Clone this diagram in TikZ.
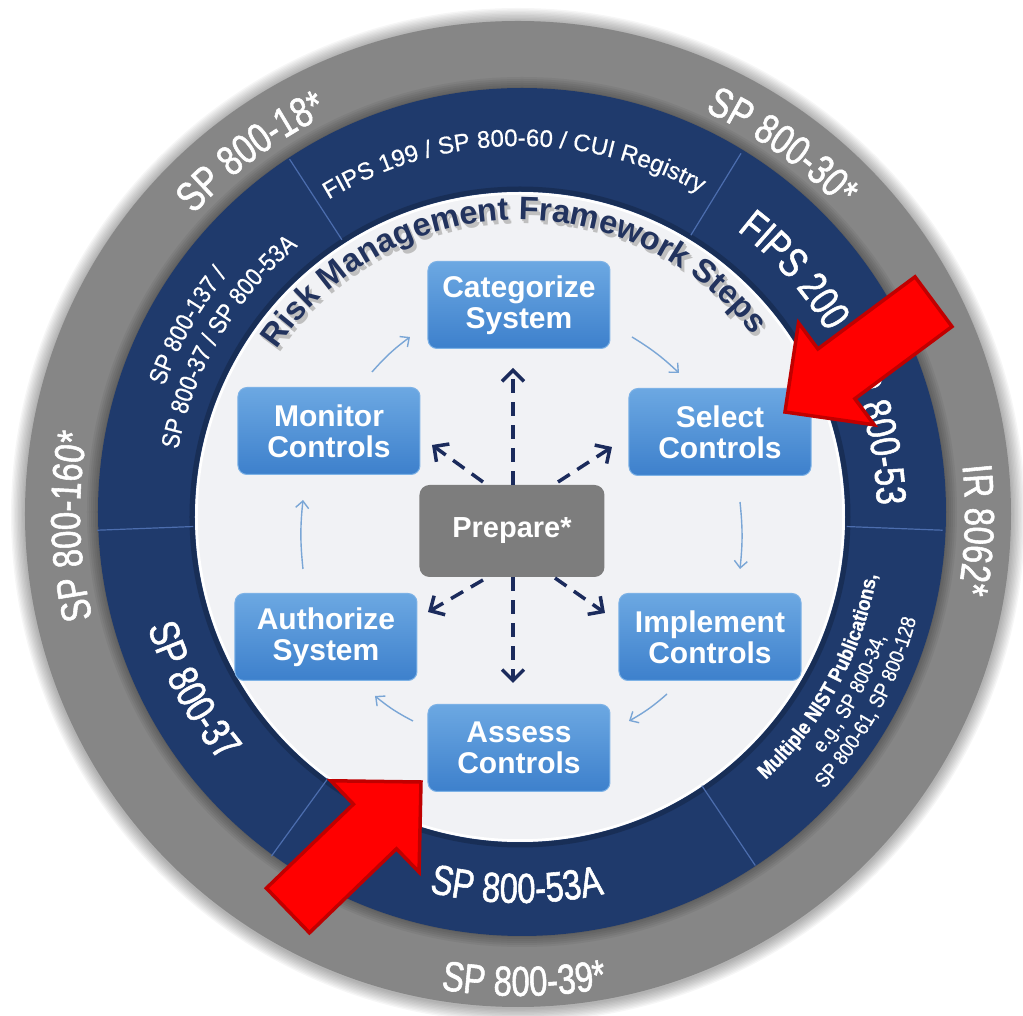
\documentclass[tikz,border=0pt]{standalone}
\usepackage{fontspec}
\setmainfont{Liberation Sans}
\newfontfamily\rmfNarrow[FakeStretch=0.78,FakeBold=1.3]{Liberation Sans}
\newfontfamily\rmfMidNarrow[FakeStretch=0.88,FakeBold=0.6]{Liberation Sans}
\newfontfamily\rmfTopFont[FakeBold=0.6]{Liberation Sans}
\usetikzlibrary{decorations.text,arrows.meta}

\definecolor{ringgray}{HTML}{868686}
\definecolor{ringblue}{HTML}{1F3A6C}
\definecolor{innerwhite}{HTML}{F1F2F5}
\definecolor{divline}{HTML}{4C6DAE}
\definecolor{navy}{HTML}{1B2B5C}
\definecolor{boxtop}{HTML}{6CA8E2}
\definecolor{boxbot}{HTML}{3D80CC}
\definecolor{boxedge}{HTML}{7DB2E6}
\definecolor{flowblue}{HTML}{7AA6D6}
\definecolor{prepgray}{HTML}{7D7D7D}
\definecolor{titlenavy}{HTML}{22335E}
\definecolor{redfill}{HTML}{FF0000}
\definecolor{rededge}{HTML}{C00000}

\newcommand\rmfBig{\rmfNarrow\fontsize{42pt}{42pt}\selectfont}
\newcommand\rmfMid{\rmfMidNarrow\fontsize{25pt}{25pt}\selectfont}
\newcommand\rmfTop{\rmfTopFont\fontsize{24pt}{24pt}\selectfont}
\newcommand\rmfNistB{\rmfMidNarrow\bfseries\fontsize{21pt}{21pt}\selectfont}
\newcommand\rmfNist{\rmfMidNarrow\fontsize{21pt}{21pt}\selectfont}
\newcommand\rmfTitle{\bfseries\fontsize{32.5pt}{32.5pt}\selectfont}

\tikzset{
  arctext/.style={decorate, decoration={text along path, text align=center, text color=white, text={#1}}},
  titletext/.style={decorate, decoration={text along path, text align=center, text color=titlenavy, text={#1}}},
  titleshade/.style={decorate, decoration={text along path, text align=center, text color=black!25, text={#1}}},
  stepbox/.style={rectangle, rounded corners=9pt, minimum width=182pt, minimum height=87pt,
    top color=boxtop, bottom color=boxbot, draw=boxedge, line width=1pt, text=white,
    font=\bfseries\fontsize{30pt}{31pt}\selectfont, align=center, inner sep=0pt},
  prepbox/.style={rectangle, rounded corners=10pt, minimum width=185pt, minimum height=92pt,
    fill=prepgray, text=white, font=\bfseries\fontsize{29pt}{30pt}\selectfont, inner sep=0pt},
  flow/.style={draw=flowblue, line width=1.4pt, -{Straight Barb[length=7pt,width=13pt]}},
  prepflow/.style={draw=navy, line width=3.5pt, dash pattern=on 14pt off 9pt,
    -{Straight Barb[length=11pt,width=22pt]}},
  redarrow/.style={fill=redfill, draw=rededge, line width=3.5pt, line join=miter},
}

\begin{document}
\begin{tikzpicture}[x=1pt,y=1pt]
\useasboundingbox (-520,-502) rectangle (503,514);

% rings
\foreach \k in {1,...,10} { \fill[black, opacity=0.035] (-2,-1) circle ({493+\k*1.4}); }
\fill[ringgray] (-2,0) circle (493);
\foreach \k in {1,...,6} { \fill[black, opacity=0.05] (2,2) circle ({423+\k*2}); }
\fill[ringblue] (2,2) circle (424);
\draw[black, opacity=0.2, line width=5pt] (0,-3) circle (328);
\fill[innerwhite] (0,-3) circle (325);
\draw[white, line width=2.5pt] (0,-3) circle (323.5);

% dividers in the blue ring
\foreach \a in {123,58.5,-2.2,-56.2,-126,182.2} {
  \draw[divline, line width=1.2pt] (\a:327) -- (\a:423);
}

% gray ring texts
\path[arctext={|\rmfBig|SP 800-18*}] (166.6:443) arc[start angle=166.6, end angle=86.6, radius=443];
\path[arctext={|\rmfBig|SP 800-30*}] (94.5:443) arc[start angle=94.5, end angle=14.5, radius=443];
\path[arctext={|\rmfBig|IR 8062*}] (38:445) arc[start angle=38, end angle=-42, radius=445];
\path[arctext={|\rmfBig|SP 800-160*}] (221.6:440) arc[start angle=221.6, end angle=141.6, radius=440];
\path[arctext={|\rmfBig|SP 800-39*}] (-129.5:482) arc[start angle=-129.5, end angle=-49.5, radius=482];

% blue ring texts
\path[arctext={|\rmfTop|FIPS 199 / SP 800-60 / CUI Registry}] (141:368) arc[start angle=141, end angle=41, radius=368];
\path[arctext={|\rmfBig|FIPS 200 / SP 800-53}] (67:357) arc[start angle=67, end angle=-13, radius=357];
\path[arctext={|\rmfNistB|Multiple NIST Publications,}] (-68.5:362) arc[start angle=-68.5, end angle=11.5, radius=362];
\path[arctext={|\rmfNist|e.g., SP 800-34,}] (-68.5:386) arc[start angle=-68.5, end angle=11.5, radius=386];
\path[arctext={|\rmfNist|SP 800-61, SP 800-128}] (-68.5:410) arc[start angle=-68.5, end angle=11.5, radius=410];
\path[arctext={|\rmfBig|SP 800-53A}] (-130.5:389) arc[start angle=-130.5, end angle=-50.5, radius=389];
\path[arctext={|\rmfBig|SP 800-37}] (168.3:389) arc[start angle=168.3, end angle=248.3, radius=389];
\path[arctext={|\rmfMid|SP 800-137 /}] (190.5:378) arc[start angle=190.5, end angle=110.5, radius=378];
\path[arctext={|\rmfMid|SP 800-37 / SP 800-53A}] (189.5:348) arc[start angle=189.5, end angle=109.5, radius=348];

% title
\begin{scope}[shift={(3,-4)}]
\path[titleshade={|\rmfTitle|Risk Management Framework Steps}] (171.7:294) arc[start angle=171.7, end angle=11.7, radius=294];
\end{scope}
\begin{scope}[shift={(1.5,-2)}]
\path[titleshade={|\rmfTitle|Risk Management Framework Steps}] (171.7:294) arc[start angle=171.7, end angle=11.7, radius=294];
\end{scope}
\path[titletext={|\rmfTitle|Risk Management Framework Steps}] (171.7:294) arc[start angle=171.7, end angle=11.7, radius=294];

% step boxes
\node[stepbox] (cat) at (-1,209) {Categorize\\System};
\node[stepbox] (sel) at (200,82) {Select\\Controls};
\node[stepbox] (imp) at (190,-123) {Implement\\Controls};
\node[stepbox] (ass) at (-1,-234) {Assess\\Controls};
\node[stepbox] (aut) at (-194,-123) {Authorize\\System};
\node[stepbox] (mon) at (-191,83) {Monitor\\Controls};
\node[prepbox] (prep) at (-8,-17) {Prepare*};

% cycle arrows
\coordinate (c1s) at (112,177);   \coordinate (c1e) at (159,141);
\coordinate (c2s) at (220,12);    \coordinate (c2e) at (220,-55);
\coordinate (c3s) at (147,-180);  \coordinate (c3e) at (109,-207);
\coordinate (c4s) at (-107,-207); \coordinate (c4e) at (-145,-182);
\coordinate (c5s) at (-217,-55);  \coordinate (c5e) at (-217,14);
\coordinate (c6s) at (-148,142);  \coordinate (c6e) at (-110,177);
\draw[flow] (c1s) to[bend left=6] (c1e);
\draw[flow] (c2s) to[bend left=6] (c2e);
\draw[flow] (c3s) to[bend left=6] (c3e);
\draw[flow] (c4s) to[bend left=6] (c4e);
\draw[flow] (c5s) to[bend left=6] (c5e);
\draw[flow] (c6s) to[bend left=6] (c6e);

% prepare arrows
\coordinate (pu) at (-7,146);
\coordinate (pd) at (-7,-169);
\coordinate (pul0) at (-37,32);  \coordinate (pul) at (-88,69);
\coordinate (pur0) at (38,32);   \coordinate (pur) at (92,67);
\coordinate (pdl0) at (-37,-66); \coordinate (pdl) at (-92,-98);
\coordinate (pdr0) at (35,-64);  \coordinate (pdr) at (85,-99);
\draw[prepflow] (prep.north) ++(1,0) -- (pu);
\draw[prepflow] (prep.south) ++(1,0) -- (pd);
\draw[prepflow] (pul0) -- (pul);
\draw[prepflow] (pur0) -- (pur);
\draw[prepflow] (pdl0) -- (pdl);
\draw[prepflow] (pdr0) -- (pdr);

% red arrows
\begin{scope}[shift={(265,102)}, rotate=216.6]
\draw[redarrow] (0,0) -- (-64,63.5) -- (-64,31) -- (-185,31) -- (-185,-31) -- (-64,-31) -- (-64,-63.5) -- cycle;
\end{scope}
\begin{scope}[shift={(-99,-268)}, rotate=44]
\draw[redarrow] (0,0) -- (-64,63.5) -- (-64,31) -- (-185,31) -- (-185,-31) -- (-64,-31) -- (-64,-63.5) -- cycle;
\end{scope}
\end{tikzpicture}
\end{document}
